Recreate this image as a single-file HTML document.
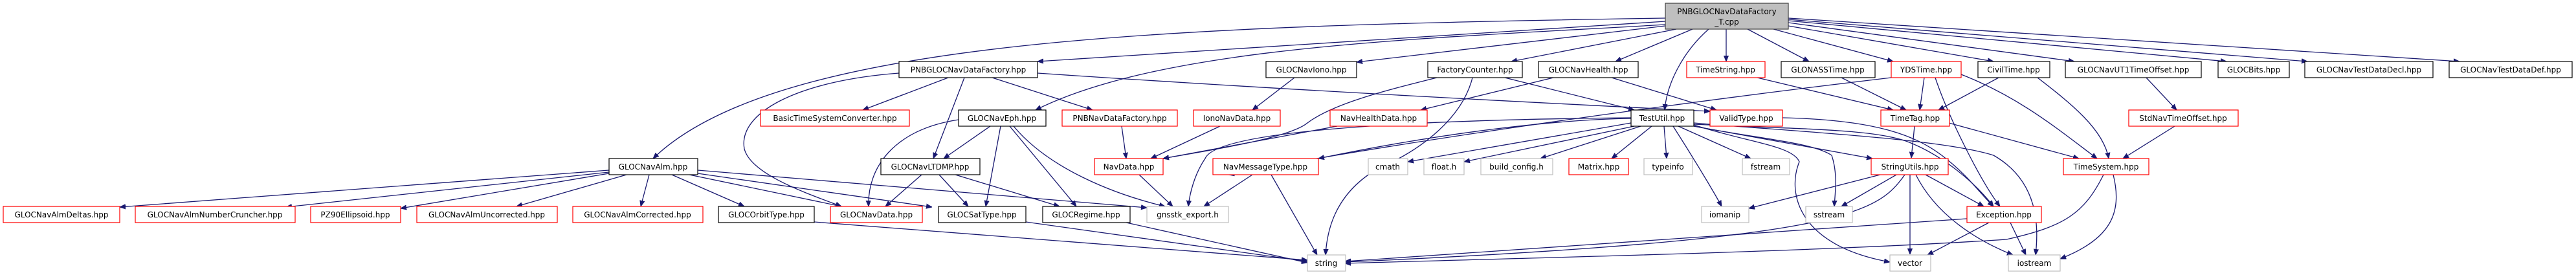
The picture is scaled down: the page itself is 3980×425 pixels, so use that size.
<!DOCTYPE html>
<html><head><meta charset="utf-8"><style>
html,body{margin:0;padding:0;background:#fff;width:3980px;height:425px;overflow:hidden}
svg text{font-family:"DejaVu Sans","Liberation Sans",sans-serif;font-size:12px;fill:#000}
.e{fill:none;stroke:#191970;stroke-width:1.3}
.k{fill:#fff;stroke:#000;stroke-width:1.2}
.r{fill:#fff;stroke:#ff0000;stroke-width:1.2}
.g{fill:#fff;stroke:#bfbfbf;stroke-width:1.2}
</style></head><body>
<svg width="3980" height="425" viewBox="0 0 3980 425" xmlns="http://www.w3.org/2000/svg">
<defs><marker id="a" viewBox="0 0 10 10" refX="10" refY="5" markerWidth="9" markerHeight="9" markerUnits="userSpaceOnUse" orient="auto"><path d="M0,1 L10,5 L0,9 z" fill="#191970" stroke="#191970"/></marker></defs>
<g class="e" marker-end="url(#a)">
<path d="M2573,28 C1800,40 1200,60 1009,245"/>
<path d="M2573,33 L1603,95"/>
<path d="M2573,38 C2200,60 1800,70 1600,170"/>
<path d="M2573,40 L2096,96"/>
<path d="M2590,45 L2335,95"/>
<path d="M2615,45 L2496,95"/>
<path d="M2640,45 C2600,80 2575,130 2572,170"/>
<path d="M2667,45 L2667,95"/>
<path d="M2700,45 L2795,95"/>
<path d="M2740,45 L2925,95"/>
<path d="M2763,40 L3080,95"/>
<path d="M2763,35 L3205,95"/>
<path d="M2763,32 L3440,95"/>
<path d="M2763,30 L3565,95"/>
<path d="M2763,28 L3800,95"/>
<path d="M1465,120 L1333,170"/>
<path d="M1490,120 L1442,245"/>
<path d="M1533,120 L1688,170"/>
<path d="M1389,113 C1230,125 1140,175 1150,230 C1160,270 1250,300 1300,319"/>
<path d="M1603,113 C2000,140 2400,160 2642,172"/>
<path d="M2000,120 L1935,170"/>
<path d="M1481,185 C1380,200 1340,260 1342,319"/>
<path d="M1530,195 L1458,245"/>
<path d="M1546,195 L1523,319"/>
<path d="M1560,195 L1663,319"/>
<path d="M1566,195 C1620,260 1720,300 1800,319"/>
<path d="M1424,270 L1368,319"/>
<path d="M1451,270 L1496,319"/>
<path d="M1476,270 L1637,319"/>
<path d="M941,263 L185,320"/>
<path d="M941,266 L442,320"/>
<path d="M941,268 L619,322"/>
<path d="M968,270 L798,319"/>
<path d="M1003,270 L990,319"/>
<path d="M1038,270 L1150,319"/>
<path d="M1065,270 L1300,319"/>
<path d="M1078,268 L1440,320"/>
<path d="M1078,263 L1772,321"/>
<path d="M1733,195 L1740,245"/>
<path d="M1885,195 L1778,245"/>
<path d="M2066,195 L1797,245"/>
<path d="M2220,120 C2140,140 2060,160 2020,190 C1990,215 1850,235 1797,245"/>
<path d="M1760,270 L1812,319"/>
<path d="M1935,270 L1860,319"/>
<path d="M1964,270 L2035,394"/>
<path d="M2520,182 C2200,185 1880,200 1862,245 C1845,270 1838,300 1836,319"/>
<path d="M2922,120 C2500,170 2100,230 1898,270"/>
<path d="M1258,343 L2020,402"/>
<path d="M1585,343 L2020,404"/>
<path d="M1740,344 L2020,406"/>
<path d="M2275,120 C2260,180 2200,230 2130,260 C2060,300 2050,360 2048,394"/>
<path d="M2325,120 L2525,170"/>
<path d="M2400,120 L2195,170"/>
<path d="M2490,120 L2652,170"/>
<path d="M2520,183 C2400,185 2230,205 2037,245"/>
<path d="M2520,190 L2175,250"/>
<path d="M2525,195 L2262,250"/>
<path d="M2535,195 L2380,245"/>
<path d="M2552,195 L2490,245"/>
<path d="M2571,195 L2575,245"/>
<path d="M2585,195 C2620,250 2650,300 2660,319"/>
<path d="M2593,195 L2705,245"/>
<path d="M2617,195 C2720,215 2800,220 2830,240 C2840,270 2835,300 2834,319"/>
<path d="M2617,195 L2893,245"/>
<path d="M2617,193 C2700,220 2770,225 2780,250 C2760,300 2780,380 2920,405"/>
<path d="M2617,192 C2800,200 2900,200 2950,220 C3000,240 3050,280 3080,319"/>
<path d="M2617,190 C2800,205 3000,215 3080,240 C3150,280 3150,350 3145,394"/>
<path d="M2754,182 C2900,185 2960,210 3000,240 C3040,270 3060,300 3080,319"/>
<path d="M2715,120 L2925,170"/>
<path d="M2845,120 L2945,170"/>
<path d="M2973,120 L2966,170"/>
<path d="M2990,120 C3010,180 3060,280 3090,319"/>
<path d="M3030,115 C3120,150 3180,200 3240,245"/>
<path d="M3088,120 L2995,170"/>
<path d="M3148,120 C3200,160 3250,200 3258,245"/>
<path d="M3316,120 L3363,170"/>
<path d="M3360,195 L3280,245"/>
<path d="M3011,190 L3212,245"/>
<path d="M2958,195 L2953,244"/>
<path d="M2905,270 L2702,322"/>
<path d="M2930,270 L2845,319"/>
<path d="M2943,270 C2900,330 2850,370 2078,405"/>
<path d="M2951,270 L2951,393"/>
<path d="M2960,270 C2990,330 3050,370 3110,394"/>
<path d="M2975,270 L3065,319"/>
<path d="M3039,338 L2078,404"/>
<path d="M3073,344 L2978,394"/>
<path d="M3106,344 L3130,394"/>
<path d="M3250,270 C3220,330 3190,350 3100,370 C2800,390 2300,400 2078,407"/>
<path d="M3265,270 C3280,330 3260,370 3183,400"/>
</g>
<rect x="2573" y="5" width="190" height="40" fill="#bfbfbf" stroke="#404040" stroke-width="1.2"/>
<text x="2668" y="22" text-anchor="middle">PNBGLOCNavDataFactory</text>
<text x="2668" y="38" text-anchor="middle">_T.cpp</text>
<g text-anchor="middle">
<rect class="k" x="1389" y="95" width="214" height="25"/><text x="1496" y="112">PNBGLOCNavDataFactory.hpp</text>
<rect class="k" x="1956" y="95" width="140" height="25"/><text x="2026" y="112">GLOCNavIono.hpp</text>
<rect class="k" x="2206" y="95" width="146" height="25"/><text x="2279" y="112">FactoryCounter.hpp</text>
<rect class="k" x="2377" y="95" width="154" height="25"/><text x="2454" y="112">GLOCNavHealth.hpp</text>
<rect class="r" x="2606" y="95" width="121" height="25"/><text x="2666" y="112">TimeString.hpp</text>
<rect class="k" x="2752" y="95" width="145" height="25"/><text x="2824" y="112">GLONASSTime.hpp</text>
<rect class="r" x="2922" y="95" width="108" height="25"/><text x="2976" y="112">YDSTime.hpp</text>
<rect class="k" x="3056" y="95" width="111" height="25"/><text x="3111" y="112">CivilTime.hpp</text>
<rect class="k" x="3191" y="95" width="210" height="25"/><text x="3296" y="112">GLOCNavUT1TimeOffset.hpp</text>
<rect class="k" x="3427" y="95" width="110" height="25"/><text x="3482" y="112">GLOCBits.hpp</text>
<rect class="k" x="3561" y="95" width="198" height="25"/><text x="3660" y="112">GLOCNavTestDataDecl.hpp</text>
<rect class="k" x="3784" y="95" width="190" height="25"/><text x="3879" y="112">GLOCNavTestDataDef.hpp</text>
<rect class="r" x="1175" y="170" width="230" height="25"/><text x="1290" y="187">BasicTimeSystemConverter.hpp</text>
<rect class="k" x="1481" y="170" width="135" height="25"/><text x="1548" y="187">GLOCNavEph.hpp</text>
<rect class="r" x="1641" y="170" width="178" height="25"/><text x="1730" y="187">PNBNavDataFactory.hpp</text>
<rect class="r" x="1844" y="170" width="134" height="25"/><text x="1911" y="187">IonoNavData.hpp</text>
<rect class="r" x="2055" y="170" width="150" height="25"/><text x="2130" y="187">NavHealthData.hpp</text>
<rect class="k" x="2520" y="170" width="97" height="25"/><text x="2568" y="187">TestUtil.hpp</text>
<rect class="r" x="2642" y="170" width="112" height="25"/><text x="2698" y="187">ValidType.hpp</text>
<rect class="r" x="2906" y="170" width="106" height="25"/><text x="2959" y="187">TimeTag.hpp</text>
<rect class="r" x="3289" y="170" width="169" height="25"/><text x="3373" y="187">StdNavTimeOffset.hpp</text>
<rect class="k" x="941" y="245" width="137" height="25"/><text x="1009" y="262">GLOCNavAlm.hpp</text>
<rect class="k" x="1361" y="245" width="153" height="25"/><text x="1437" y="262">GLOCNavLTDMP.hpp</text>
<rect class="r" x="1691" y="245" width="106" height="25"/><text x="1744" y="262">NavData.hpp</text>
<rect class="r" x="1874" y="245" width="163" height="25"/><text x="1955" y="262">NavMessageType.hpp</text>
<rect class="g" x="2114" y="245" width="61" height="25"/><text x="2144" y="262">cmath</text>
<rect class="g" x="2200" y="245" width="62" height="25"/><text x="2231" y="262">float.h</text>
<rect class="g" x="2288" y="245" width="111" height="25"/><text x="2343" y="262">build_config.h</text>
<rect class="r" x="2424" y="245" width="92" height="25"/><text x="2470" y="262">Matrix.hpp</text>
<rect class="g" x="2540" y="245" width="75" height="25"/><text x="2577" y="262">typeinfo</text>
<rect class="g" x="2692" y="245" width="73" height="25"/><text x="2728" y="262">fstream</text>
<rect class="r" x="2891" y="245" width="119" height="25"/><text x="2951" y="262">StringUtils.hpp</text>
<rect class="r" x="3188" y="245" width="132" height="25"/><text x="3254" y="262">TimeSystem.hpp</text>
<rect class="r" x="5" y="319" width="180" height="25"/><text x="95" y="336">GLOCNavAlmDeltas.hpp</text>
<rect class="r" x="209" y="319" width="247" height="25"/><text x="332" y="336">GLOCNavAlmNumberCruncher.hpp</text>
<rect class="r" x="480" y="319" width="139" height="25"/><text x="549" y="336">PZ90Ellipsoid.hpp</text>
<rect class="r" x="644" y="319" width="217" height="25"/><text x="752" y="336">GLOCNavAlmUncorrected.hpp</text>
<rect class="r" x="885" y="319" width="201" height="25"/><text x="985" y="336">GLOCNavAlmCorrected.hpp</text>
<rect class="k" x="1110" y="319" width="148" height="25"/><text x="1184" y="336">GLOCOrbitType.hpp</text>
<rect class="r" x="1283" y="319" width="142" height="25"/><text x="1354" y="336">GLOCNavData.hpp</text>
<rect class="k" x="1450" y="319" width="135" height="25"/><text x="1517" y="336">GLOCSatType.hpp</text>
<rect class="k" x="1611" y="319" width="135" height="25"/><text x="1678" y="336">GLOCRegime.hpp</text>
<rect class="g" x="1772" y="319" width="126" height="25"/><text x="1835" y="336">gnsstk_export.h</text>
<rect class="g" x="2629" y="319" width="73" height="25"/><text x="2665" y="336">iomanip</text>
<rect class="g" x="2790" y="319" width="72" height="25"/><text x="2826" y="336">sstream</text>
<rect class="r" x="3039" y="319" width="115" height="25"/><text x="3096" y="336">Exception.hpp</text>
<rect class="g" x="2020" y="394" width="59" height="25"/><text x="2049" y="411">string</text>
<rect class="g" x="2920" y="394" width="63" height="25"/><text x="2951" y="411">vector</text>
<rect class="g" x="3103" y="394" width="80" height="25"/><text x="3143" y="411">iostream</text>
</g>
</svg>
</body></html>
